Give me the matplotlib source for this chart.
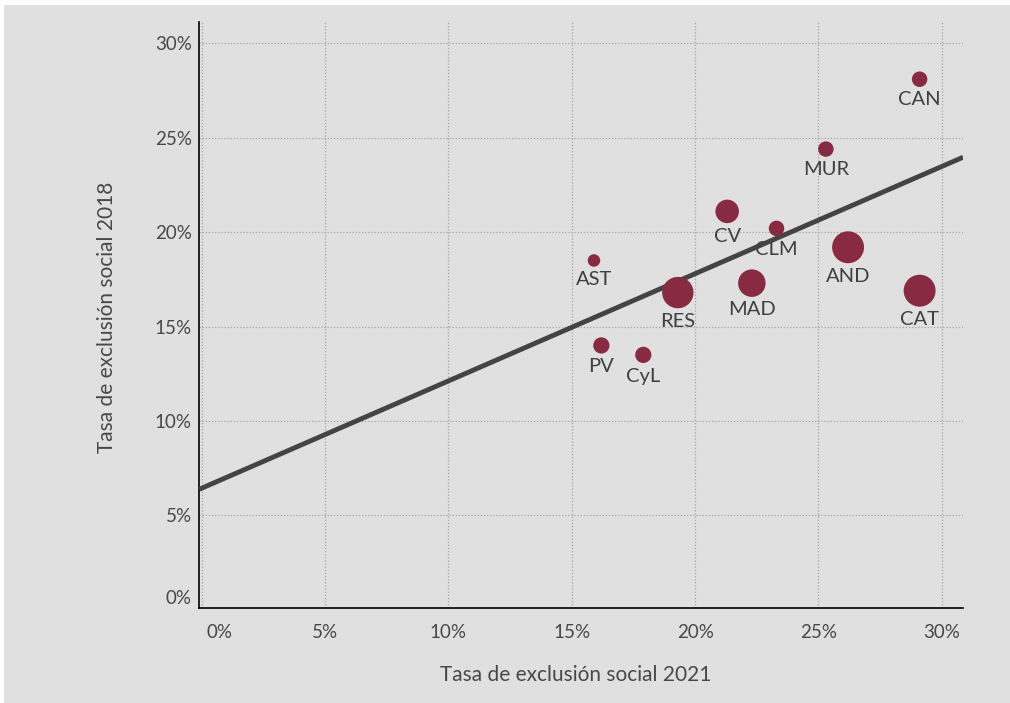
import numpy as np
import matplotlib
matplotlib.use("Agg")
from matplotlib import pyplot as plt
from matplotlib.patches import Rectangle
import matplotlib.transforms as mtransforms

# datos
regiones = ["CAN", "MUR", "CV", "CLM", "AND", "CAT", "AST", "RES", "MAD", "PV", "CyL"]
exclusion_2021 = [29.1, 25.3, 21.3, 23.3, 26.2, 29.1, 15.9, 19.3, 22.3, 16.2, 17.9]
exclusion_2018 = [28.1, 24.4, 21.1, 20.2, 19.2, 16.9, 18.5, 16.8, 17.3, 14.0, 13.5]
poblacion = [2.0, 2.0, 4.6, 2.0, 8.5, 8.5, 1.3, 8.2, 6.3, 2.2, 2.2]
ordenada = 6.44
pendiente = 0.568
ticks = [0, 5, 10, 15, 20, 25, 30]

plt.rcParams['font.family'] = ['Lato', 'DejaVu Sans']

fondo = "#e0e0e0"
granate = "#892a43"
gris_texto = "#404040"

fig = plt.figure(figsize=(10.1, 7.03), dpi=100)
fig.patch.set_facecolor("white")
fig.patches.append(Rectangle((4 / 1010, 0), 1, 1 - 5 / 703, transform=fig.transFigure,
                             facecolor=fondo, edgecolor="none", zorder=-10))

ax = fig.add_axes([0.1975, 0.1358, 0.9535 - 0.1975, 0.9687 - 0.1358])
ax.set_facecolor(fondo)
ax.set_xlim(-0.09, 30.86)
ymin = 0.12
ax.set_ylim(ymin, 31.13)

# linea de tendencia
xs = np.array(ax.get_xlim())
ax.plot(xs, ordenada + pendiente * xs, color="#444444", lw=3.5, zorder=3,
        solid_capstyle="butt")

# burbujas
radios = np.sqrt(30 * np.array(poblacion))  # px
ax.scatter(exclusion_2021, exclusion_2018, s=(1.44 * radios) ** 2, color=granate,
           edgecolors="none", zorder=4)

for nombre, x, y, r in zip(regiones, exclusion_2021, exclusion_2018, radios):
    ax.annotate(nombre, (x, y), xytext=(0, -(r + 13)), textcoords="offset pixels",
                ha="center", va="center", fontsize=14.5, color=gris_texto, zorder=5)

yticks = [ymin] + ticks[1:]
ax.set_xticks(ticks)
ax.set_yticks(yticks)
ax.set_xticklabels([f"{t}%" for t in ticks])
ax.set_yticklabels([f"{t}%" for t in ticks])
ax.tick_params(length=0, labelsize=13.5, labelcolor="#484848")
ax.tick_params(axis="x", pad=12)
ax.tick_params(axis="y", pad=5.5)

# desplazar las etiquetas del 0%
ax.get_xticklabels()[0].set_transform(ax.get_xticklabels()[0].get_transform() +
                                      mtransforms.ScaledTranslation(18 / 100, 0, fig.dpi_scale_trans))
ax.get_yticklabels()[0].set_transform(ax.get_yticklabels()[0].get_transform() +
                                      mtransforms.ScaledTranslation(0, 11 / 100, fig.dpi_scale_trans))

ax.grid(True, color="#a5a5a5", linestyle=(0, (1, 1.5)), lw=0.9)
ax.set_axisbelow(True)
for lado in ["top", "right"]:
    ax.spines[lado].set_visible(False)
for lado in ["left", "bottom"]:
    ax.spines[lado].set_color("black")
    ax.spines[lado].set_linewidth(1.2)

fig.text(576 / 1010, 1 - 675 / 703, "Tasa de exclusión social 2021", ha="center", va="center",
         fontsize=15, color="#484848")
fig.text(107 / 1010, 1 - 317 / 703, "Tasa de exclusión social 2018", ha="center", va="center",
         rotation=90, fontsize=15, color="#484848")

fig.savefig("out.png", dpi=100, facecolor=fig.get_facecolor())
